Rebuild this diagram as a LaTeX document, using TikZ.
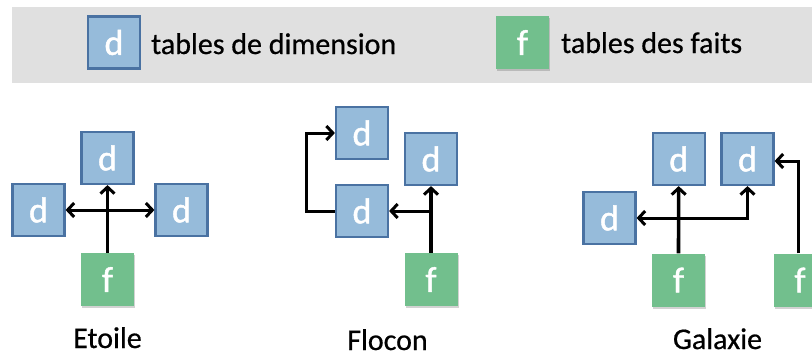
\documentclass[tikz,border=0pt]{standalone}
\usepackage{fontspec}
\setmainfont{Carlito}
\usetikzlibrary{arrows.meta,shadows}
\definecolor{dimfill}{RGB}{150,187,218}
\definecolor{dimline}{RGB}{74,114,162}
\definecolor{factfill}{RGB}{114,191,141}
\definecolor{bandgray}{RGB}{224,224,224}
\newfontfamily\boxfont[FakeBold=1.2]{Carlito}
\newfontfamily\labelfont[FakeBold=0.6]{Carlito}
\begin{document}
\begin{tikzpicture}[x=1pt,y=-1pt,
  txt/.style={font=\labelfont\fontsize{30}{36}\selectfont,inner sep=0pt},
  dimbox/.style={draw=dimline,line width=2.2pt,fill=dimfill,minimum width=52pt,minimum height=52pt,
    inner sep=0pt,text=white,font=\boxfont\fontsize{36}{40}\selectfont},
  factbox/.style={fill=factfill,minimum width=53pt,minimum height=53pt,inner sep=0pt,text=white,
    font=\boxfont\fontsize{36}{40}\selectfont,
    drop shadow={shadow xshift=1pt,shadow yshift=-2pt,opacity=0.25,fill=black!70}},
  link/.style={line width=3pt,-{Straight Barb[length=6.5pt,width=14pt,line width=3pt]}},
  stem/.style={line width=3.6pt,-{Straight Barb[length=6.5pt,width=14pt,line width=3pt]}},
  twoway/.style={line width=3pt,{Straight Barb[length=6.5pt,width=14pt,line width=3pt]}-{Straight Barb[length=6.5pt,width=14pt,line width=3pt]}},
  caption/.style={txt,anchor=base,text=black}]
\useasboundingbox (0,0) rectangle (812,356);
\clip (0,0) rectangle (812,356);

% legend band
\fill[bandgray] (12,7) rectangle (812,83);
\node[dimbox] (legd) at (114,42.5) {d};
\node[txt,anchor=base west] (legdt) at (151,54) {tables de dimension};
\node[factbox] (legf) at (522.5,42.5) {f};
\node[txt,anchor=base west] (legft) at (561,53) {tables des faits};

% star schema
\node[dimbox] (etop) at (107.5,158) {d};
\node[dimbox] (eleft) at (38.5,210) {d};
\node[dimbox] (eright) at (181.5,210) {d};
\node[factbox] (efact) at (107.5,279.5) {f};
\draw[stem] (efact.north) -- (etop.south);
\draw[twoway] (eleft.east) -- (eright.west);
\node[caption] (ecap) at (107.5,348) {Etoile};

% snowflake schema
\node[dimbox] (ftop) at (362,133) {d};
\node[dimbox] (fright) at (431,159) {d};
\node[dimbox] (fmid) at (362,211) {d};
\node[factbox] (ffact) at (431,279.5) {f};
\draw[stem] (ffact.north) -- (fright.south);
\draw[link] (ffact.north |- fmid.east) -- (fmid.east);
\draw[link] (fmid.west) -- ++(-28,0) |- (ftop.west);
\node[caption] (fcap) at (387.5,350) {Flocon};

% galaxy schema
\node[dimbox] (gleft) at (609.5,218) {d};
\node[dimbox] (gmid) at (678.7,159) {d};
\node[dimbox] (gright) at (747.5,159) {d};
\node[factbox] (gfact) at (678.5,280) {f};
\node[factbox] (gfacttwo) at (800,280) {f};
\draw[stem] (gfact.north) -- (gmid.south);
\draw[twoway] (gleft.east) -| (gright.south);
\draw[link] ([xshift=-2pt]gfacttwo.north) |- ([yshift=-2pt]gright.east);
\node[caption] (gcap) at (717.5,349) {Galaxie};
\end{tikzpicture}
\end{document}
